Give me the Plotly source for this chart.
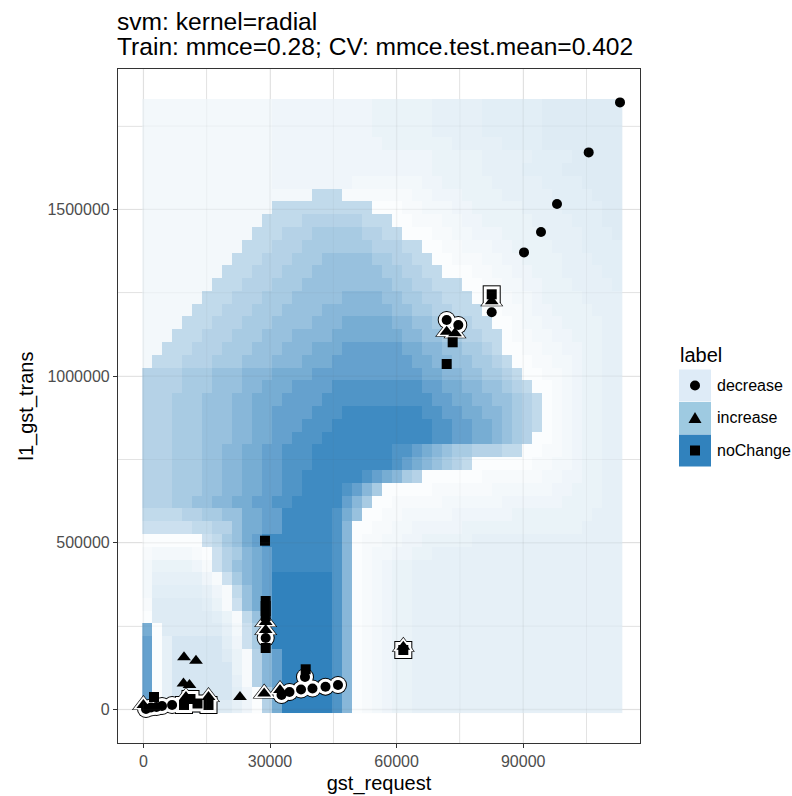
import plotly.graph_objects as go
import numpy as np

# ---------------- data ----------------
# prediction grid extent (cell centres) and size
GRID_X_FIRST, GRID_X_LAST = 924, 112314
GRID_Y_FIRST, GRID_Y_LAST = 7500, 1811900
GRID_COLS = 48

# shade level -> ink fraction of the predicted-class colour (alpha-blended on white)
LEVEL_T = {'0': 0.00, '1': 0.02, '2': 0.04, '3': 0.06, '4': 0.08, '5': 0.10,
           '6': 0.12, '7': 0.14, '8': 0.16, '9': 0.20, 'a': 0.25, 'b': 0.30,
           'c': 0.36, 'd': 0.42, 'e': 0.50, 'f': 0.58, 'g': 0.66, 'h': 0.75,
           'i': 0.85, 'j': 0.93, 'k': 1.00}

# predicted surface, top row first, run-length coded "<level>*<count>"
SURFACE_ROWS = [
    "3*13 4*10 5*6 6*5 7*6 8*8",
    "3*13 4*10 5*6 6*5 7*6 8*8",
    "3*13 4*10 5*6 6*5 7*6 8*8",
    "3*13 4*11 5*7 6*5 7*4 8*8",
    "3*13 4*16 5*5 6*5 7*4 8*5",
    "3*13 4*16 5*5 6*4 7*4 8*6",
    "3*13 4*8 3*7 4*2 5*5 6*5 7*4 8*4",
    "3*17 b*3 2*7 3*2 4*3 5*4 6*5 7*4 8*3",
    "3*13 b*10 1*3 2*2 3*3 4*2 5*5 6*4 7*4 8*2",
    "3*12 b*4 c*6 b*3 1*2 2*3 3*2 4*2 5*5 6*4 7*3 8*2",
    "3*11 b*3 c*3 d*5 c*2 b*2 1*3 2*2 3*2 4*3 5*4 6*4 7*3 8*1",
    "3*10 b*3 c*3 d*7 c*3 b*2 1*2 2*2 3*3 4*2 5*4 6*3 7*4",
    "3*9 b*3 c*3 d*3 e*5 d*2 c*2 b*2 1*2 2*3 3*2 4*2 5*4 6*3 7*3",
    "3*8 b*3 c*3 d*3 e*7 d*2 c*2 b*2 1*3 2*2 3*2 4*2 5*3 6*4 7*2",
    "3*7 b*3 c*3 d*3 e*9 d*2 c*2 b*3 1*2 2*2 3*2 4*2 5*3 6*4 7*1",
    "3*6 b*3 c*3 d*3 e*5 f*4 e*2 d*2 c*2 b*3 1*2 2*2 3*2 4*1 5*4 6*4",
    "3*5 b*3 c*3 d*3 e*4 f*7 e*2 d*2 c*2 b*3 1*2 2*2 3*1 4*2 5*4 6*3",
    "3*4 b*3 c*3 d*3 e*4 f*3 g*5 f*2 e*2 d*2 c*2 b*2 1*2 2*1 3*2 4*2 5*4 6*2",
    "3*3 b*3 c*3 d*3 e*3 f*4 g*7 f*2 e*2 d*2 c*2 b*2 1*1 2*2 3*2 4*2 5*3 6*2",
    "3*2 b*3 c*3 d*3 e*3 f*3 g*3 h*6 g*2 f*2 e*2 d*2 c*1 b*1 1*2 2*2 3*2 4*2 5*2 6*2",
    "3*1 b*3 c*3 d*3 e*3 f*3 g*3 h*8 g*2 f*2 e*2 d*2 c*1 b*1 1*2 2*2 3*2 4*1 5*2 6*2",
    "c*4 d*3 e*3 f*3 g*4 h*11 g*2 f*2 e*2 d*2 c*1 b*1 1*2 2*2 3*1 4*1 5*2 6*2",
    "c*4 d*3 e*3 f*2 g*3 h*4 i*9 h*2 g*2 f*2 e*2 d*1 c*1 b*1 1*2 2*1 3*1 4*1 5*2 6*2",
    "c*3 d*3 e*3 f*2 g*3 h*4 i*11 h*2 g*2 f*2 e*2 d*1 c*1 b*1 1*1 2*1 3*1 4*1 5*2 6*2",
    "c*3 d*3 e*3 f*2 g*2 h*4 i*3 j*8 i*2 h*2 g*2 f*2 e*1 d*1 c*1 b*1 1*1 2*1 3*1 4*1 5*2 6*2",
    "c*3 d*3 e*3 f*2 g*2 h*3 i*3 j*10 i*2 h*2 g*2 f*1 e*1 d*1 c*1 b*1 1*1 2*1 3*1 4*1 5*2 6*2",
    "c*3 d*3 e*3 f*2 g*2 h*2 i*3 j*11 i*2 h*2 g*2 f*1 e*1 d*1 c*1 1*2 2*1 3*1 4*1 5*2 6*2",
    "c*3 d*3 e*2 f*2 g*2 h*2 i*3 j*8 i*2 h*1 g*1 f*1 e*1 d*2 c*3 b*2 1*2 2*2 3*1 4*1 5*2 6*2",
    "c*3 d*3 e*2 f*2 g*2 h*2 i*3 j*8 i*1 h*1 g*1 f*1 e*1 d*1 c*1 b*1 1*6 2*2 3*2 4*1 5*2 6*2",
    "c*3 d*3 e*2 f*2 g*2 h*2 i*2 j*6 i*1 h*1 g*1 f*1 d*1 c*1 1*6 2*6 3*2 4*2 5*2 6*2",
    "c*3 d*3 e*2 f*2 g*2 h*2 i*2 j*4 i*1 h*1 f*1 d*1 1*5 2*6 3*6 4*2 5*3 6*2",
    "c*3 d*2 e*2 f*2 g*2 h*2 i*2 j*5 h*1 f*1 d*1 1*2 2*5 3*6 4*6 5*4 6*2",
    "b*4 c*2 d*2 e*2 g*2 h*2 j*5 i*1 g*1 e*1 1*2 2*2 3*5 4*6 5*8 6*3",
    "a*5 b*2 c*2 e*1 g*2 h*2 j*5 i*1 f*1 1*2 2*2 3*2 4*5 5*12 6*4",
    "1*6 a*1 b*1 d*1 e*1 g*1 h*1 j*7 i*1 f*1 1*1 2*2 3*2 4*2 5*5 6*15",
    "2*1 3*4 2*1 1*1 a*1 c*1 d*1 f*1 g*1 h*1 j*6 i*1 f*1 1*1 2*1 3*2 4*2 5*2 6*19",
    "3*1 5*4 4*1 2*1 a*1 c*1 e*1 f*1 g*1 h*1 j*6 i*1 f*1 1*1 2*1 3*1 4*1 5*2 6*21",
    "3*1 6*5 4*1 2*1 a*1 d*1 f*1 g*1 h*1 k*6 i*1 f*1 1*1 2*1 3*1 4*1 5*2 6*21",
    "3*1 7*5 6*1 4*1 2*1 b*1 e*1 g*1 h*1 k*6 i*1 f*1 1*1 2*1 3*1 4*1 5*2 6*21",
    "2*1 8*5 7*1 5*1 2*1 a*1 e*1 g*1 h*1 k*6 i*1 f*1 1*1 2*1 3*1 4*1 5*2 6*21",
    "1*1 8*6 7*1 5*1 2*1 b*1 e*1 h*1 k*6 i*1 f*1 1*1 2*1 3*1 4*1 5*2 6*21",
    "g*1 1*1 8*6 6*1 3*1 a*1 d*1 g*1 k*6 i*1 f*1 1*1 2*1 3*1 4*1 5*2 6*21",
    "h*1 1*1 6*1 9*5 7*1 4*1 a*1 d*1 g*1 k*6 i*1 f*1 1*1 2*1 3*1 4*1 5*2 6*21",
    "h*1 1*1 6*1 9*5 8*1 5*1 2*1 c*1 f*1 h*1 k*5 i*1 f*1 1*1 2*1 3*1 4*1 5*2 6*21",
    "h*1 1*1 6*1 9*6 5*1 2*1 c*1 f*1 h*1 k*5 i*1 f*1 1*1 2*1 3*1 4*1 5*2 6*21",
    "h*1 1*1 6*1 9*6 6*1 2*1 c*1 f*1 h*1 k*5 i*1 f*1 1*1 2*1 3*1 4*1 5*2 6*21",
    "h*1 1*1 6*1 9*6 7*1 4*1 1*1 c*1 g*1 k*5 i*1 f*1 1*1 2*1 3*1 4*1 5*2 6*21",
    "h*1 1*1 5*1 8*6 6*1 4*1 1*1 c*1 g*1 k*5 i*1 f*1 1*1 2*1 3*1 4*1 5*2 6*21",
]

# training observations
DEC_X = [112940, 105520, 98010, 94220, 90190, 82540, 71870, 74620, 38290, 620,
         1800, 3100, 4400, 6800, 32730, 34620, 37350, 40070, 43150, 46110, 28980]
DEC_Y = [1821000, 1671000, 1516000, 1432000, 1371000, 1191400, 1168300, 1153300,
         97500, 1500, 6000, 7500, 10500, 13500, 43500, 52500, 60000, 63000, 68400,
         73500, 214500]
DEC_ERR = [0, 0, 0, 0, 0, 0, 1, 1, 1, 1, 1, 1, 1, 1, 1, 1, 1, 1, 1, 1, 1]

INC_X = [82540, 71870, 73840, 61590, 28980, 28980, 28620, 32370, 22890, 9620,
         12460, 9500, 10920, 0, 10090, 15430]
INC_Y = [1224400, 1133200, 1128400, 188400, 262500, 238500, 48000, 58500, 37500,
         156600, 146400, 78000, 73500, 13500, 37500, 37500]
INC_ERR = [1, 1, 1, 1, 1, 1, 1, 1, 0, 0, 0, 0, 0, 1, 1, 1]

NOC_X = [82540, 73290, 71870, 28820, 28980, 28980, 28980, 28980, 28980, 61590,
         38460, 2510, 9620, 11160, 12820, 15430]
NOC_Y = [1245300, 1101400, 1036300, 506300, 325400, 310400, 295400, 280400,
         184500, 178500, 120600, 37500, 13500, 31500, 18000, 13500]
NOC_ERR = [1, 0, 0, 0, 0, 0, 0, 0, 0, 1, 0, 0, 1, 1, 1, 1]

CLASSES = ["decrease", "increase", "noChange"]
CLASS_COLORS = ["#deebf7", "#9ecae1", "#3182bd"]

X_TICKS = [0, 30000, 60000, 90000]
X_MINOR = [15000, 45000, 75000, 105000]
Y_TICKS = [0, 500000, 1000000, 1500000]
Y_MINOR = [250000, 750000, 1250000, 1750000]
X_RANGE = [-6019, 117679]
Y_RANGE = [-100480, 1921115]

TITLE_LINES = ["svm: kernel=radial", "Train: mmce=0.28; CV: mmce.test.mean=0.402"]

# ---------------- figure ----------------
W, H = 792, 796
ML, MR, MT, MB = 118, 152, 69, 53
FONT = "Liberation Sans, Arial, Helvetica, sans-serif"


def px_x(px):
    return (px - ML) / (W - ML - MR)


def px_y(py):
    return (H - MB - py) / (H - MT - MB)


def decode(row):
    vals = []
    for tok in row.split():
        ch, n = tok.split("*")
        vals.extend([LEVEL_T[ch]] * int(n))
    assert len(vals) == GRID_COLS, (row, len(vals))
    return vals


z = [decode(r) for r in reversed(SURFACE_ROWS)]
gx = np.linspace(GRID_X_FIRST, GRID_X_LAST, GRID_COLS)
gy = np.linspace(GRID_Y_FIRST, GRID_Y_LAST, len(SURFACE_ROWS))

fig = go.Figure()
fig.add_trace(go.Heatmap(
    x=gx, y=gy, z=z, zmin=0, zmax=1, zsmooth=False,
    colorscale=[[0, "#ffffff"], [1, "#3182bd"]],
    showscale=False, hoverinfo="skip"))

groups = [
    (DEC_X, DEC_Y, DEC_ERR, "circle", 10),
    (INC_X, INC_Y, INC_ERR, "triangle-up", 12),
    (NOC_X, NOC_Y, NOC_ERR, "square", 10),
]

# misclassified points: black halo, then white ring
for extra, col in [(8, "black"), (6, "white")]:
    for xs, ys, errs, sym, size in groups:
        ex = [x for x, e in zip(xs, errs) if e]
        ey = [y for y, e in zip(ys, errs) if e]
        fig.add_trace(go.Scatter(
            x=ex, y=ey, mode="markers", hoverinfo="skip", showlegend=False,
            marker=dict(symbol=sym, size=size + extra, color=col, line=dict(width=0))))

# all observations
for xs, ys, errs, sym, size in groups:
    fig.add_trace(go.Scatter(
        x=xs, y=ys, mode="markers", hoverinfo="skip", showlegend=False,
        marker=dict(symbol=sym, size=size, color="black", line=dict(width=0))))

axis_common = dict(
    showline=True, linecolor="#333333", linewidth=1.2, mirror=True,
    ticks="outside", ticklen=4, tickcolor="#333333", tickwidth=1,
    tickfont=dict(family=FONT, size=16, color="#4d4d4d"),
    showgrid=True, gridcolor="#ebebeb", gridwidth=1.4, zeroline=False,
)

fig.update_layout(
    width=W, height=H,
    margin=dict(l=ML, r=MR, t=MT, b=MB, autoexpand=False),
    plot_bgcolor="white", paper_bgcolor="white",
    font=dict(family=FONT, color="black"),
    xaxis=dict(range=X_RANGE, tickvals=X_TICKS,
               ticktext=[str(v) for v in X_TICKS],
               minor=dict(tickvals=X_MINOR, showgrid=True, gridcolor="#ebebeb",
                          gridwidth=0.7, ticks=""),
               title=dict(text="gst_request", standoff=6,
                          font=dict(family=FONT, size=20, color="black")),
               **axis_common),
    yaxis=dict(range=Y_RANGE, tickvals=Y_TICKS,
               ticktext=[str(v) for v in Y_TICKS],
               minor=dict(tickvals=Y_MINOR, showgrid=True, gridcolor="#ebebeb",
                          gridwidth=0.7, ticks=""),
               title=dict(text="l1_gst_trans", standoff=8,
                          font=dict(family=FONT, size=20, color="black")),
               **axis_common),
)

shapes = []
annotations = []

# faint grid showing through the translucent prediction tiles
for v in X_TICKS + X_MINOR:
    shapes.append(dict(type="line", xref="x", yref="paper", x0=v, x1=v, y0=0, y1=1,
                       line=dict(color="rgba(90,90,90,0.07)",
                                 width=1.4 if v in X_TICKS else 0.8), layer="above"))
for v in Y_TICKS + Y_MINOR:
    shapes.append(dict(type="line", xref="paper", yref="y", x0=0, x1=1, y0=v, y1=v,
                       line=dict(color="rgba(90,90,90,0.07)",
                                 width=1.4 if v in Y_TICKS else 0.8), layer="above"))

# two-line plot title, each line in its own fixed-height box
for text, yc in zip(TITLE_LINES, [21.5, 47.0]):
    annotations.append(dict(text=text, xref="paper", yref="paper",
                            x=px_x(116), y=px_y(yc), xanchor="left", yanchor="middle",
                            height=25.5, valign="middle", borderpad=0,
                            showarrow=False, font=dict(family=FONT, size=24.6, color="black")))

# legend drawn by hand: filled keys with the point symbol on top
key_x0, key_x1 = 679, 711
key_rows = [(369.5, 401.5), (402.0, 434.0), (434.5, 466.5)]
for (y0, y1), col in zip(key_rows, CLASS_COLORS):
    shapes.append(dict(type="rect", xref="paper", yref="paper",
                       x0=px_x(key_x0), x1=px_x(key_x1), y0=px_y(y1), y1=px_y(y0),
                       fillcolor=col, line=dict(width=0), layer="above"))
cx = (key_x0 + key_x1) / 2
cy = [(a + b) / 2 for a, b in key_rows]
shapes.append(dict(type="circle", xref="paper", yref="paper",
                   x0=px_x(cx - 5), x1=px_x(cx + 5), y0=px_y(cy[0] + 5), y1=px_y(cy[0] - 5),
                   fillcolor="black", line=dict(width=0), layer="above"))
tri = "M {} {} L {} {} L {} {} Z".format(
    px_x(cx), px_y(cy[1] - 6), px_x(cx - 6.5), px_y(cy[1] + 5), px_x(cx + 6.5), px_y(cy[1] + 5))
shapes.append(dict(type="path", xref="paper", yref="paper", path=tri,
                   fillcolor="black", line=dict(width=0), layer="above"))
shapes.append(dict(type="rect", xref="paper", yref="paper",
                   x0=px_x(cx - 5), x1=px_x(cx + 5), y0=px_y(cy[2] + 5), y1=px_y(cy[2] - 5),
                   fillcolor="black", line=dict(width=0), layer="above"))
for name, yc in zip(CLASSES, cy):
    annotations.append(dict(text=name, xref="paper", yref="paper",
                            x=px_x(715), y=px_y(yc), xanchor="left", yanchor="middle",
                            showarrow=False, font=dict(family=FONT, size=16, color="black")))
annotations.append(dict(text="label", xref="paper", yref="paper",
                        x=px_x(678), y=px_y(355), xanchor="left", yanchor="middle",
                        showarrow=False, font=dict(family=FONT, size=20, color="black")))

fig.update_layout(shapes=shapes, annotations=annotations)
fig.write_html("out.html")
